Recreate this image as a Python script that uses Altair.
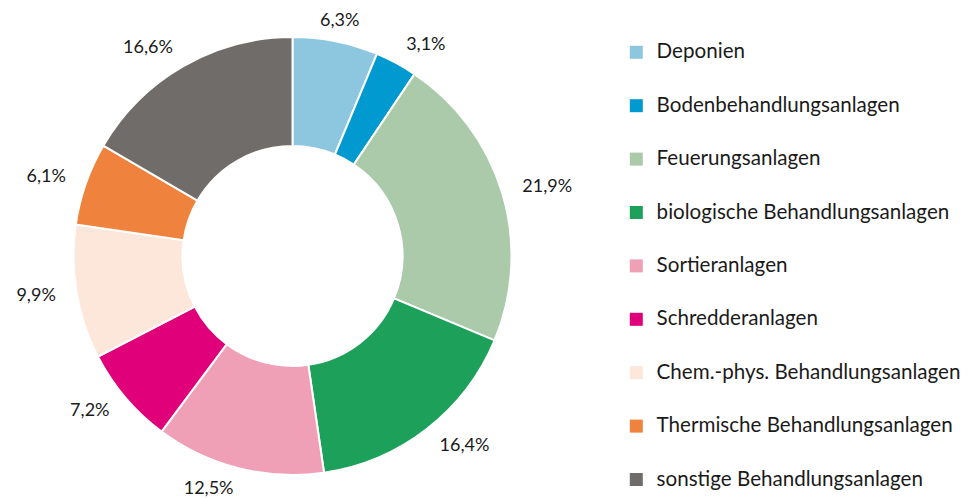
import altair as alt
import pandas as pd

categories = ["Deponien", "Bodenbehandlungsanlagen", "Feuerungsanlagen",
              "biologische Behandlungsanlagen", "Sortieranlagen", "Schredderanlagen",
              "Chem.-phys. Behandlungsanlagen", "Thermische Behandlungsanlagen",
              "sonstige Behandlungsanlagen"]
values = [6.3, 3.1, 21.9, 16.4, 12.5, 7.2, 9.9, 6.1, 16.6]
colors = ["#8CC7DF", "#0099D0", "#ABCAAA", "#1DA05A", "#F0A0B6", "#E0007A",
          "#FDE6DA", "#EF833E", "#706C69"]

df = pd.DataFrame({
    "cat": categories,
    "val": values,
    "idx": list(range(len(values))),
    "label": [f"{v:.1f}".replace(".", ",") + "%" for v in values],
})

FONT = "Lato"
TAU = 6.283185307179586
theta_scale = alt.Scale(domain=[0, 100], range=[0, TAU])

arcs = alt.Chart(df).mark_arc(outerRadius=219, innerRadius=110, stroke="white", strokeWidth=2).encode(
    theta=alt.Theta("val:Q", stack=True, scale=theta_scale),
    order=alt.Order("idx:Q"),
    color=alt.Color("cat:N", scale=alt.Scale(domain=categories, range=colors),
                    sort=categories,
                    legend=alt.Legend(title=None, orient="none", legendX=618, legendY=34,
                                      symbolType="square", symbolSize=169,
                                      symbolStrokeWidth=0,
                                      labelFontSize=20.6, labelFont=FONT, labelColor="#1a1a1a",
                                      labelOffset=10, rowPadding=32.4, labelLimit=400)),
)

lab_base = alt.Chart(df).transform_window(
    cum="sum(val)", sort=[alt.SortField("idx")], frame=[None, 0]
).transform_calculate(
    mid="datum.cum - datum.val / 2"
)


def label_layer(cond, align):
    return lab_base.transform_filter(cond).mark_text(
        radius=240, fontSize=18, font=FONT, color="#1a1a1a", align=align, baseline="middle"
    ).encode(
        theta=alt.Theta("mid:Q", scale=theta_scale),
        text="label:N",
    )


labels_c = label_layer("datum.idx == 0", "center")
labels_l = label_layer("datum.idx >= 1 && datum.idx <= 3", "left")
labels_r = label_layer("datum.idx >= 4", "right")

chart = (arcs + labels_c + labels_l + labels_r).properties(
    width=569, height=496, padding=0
).configure_view(stroke=None)

chart.save("out.html", embed_options={"renderer": "svg", "actions": False})
